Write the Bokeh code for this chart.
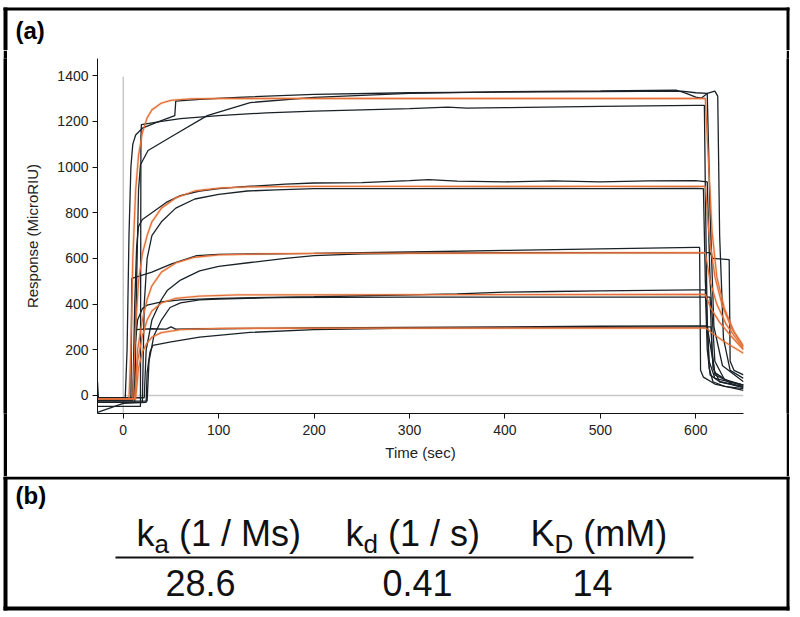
from bokeh.plotting import figure
from bokeh.models import Range1d, FixedTicker, Spacer
from bokeh.layouts import row
from bokeh.embed import file_html
from bokeh.resources import INLINE
from bokeh.core.properties import value

# ---------------- data ----------------
X_TICKS = [0, 100, 200, 300, 400, 500, 600]
Y_TICKS = [0, 200, 400, 600, 800, 1000, 1200, 1400]
X_LIMITS = (-27, 650)
Y_LIMITS = (-79, 1475)

GUIDE_ZERO_T = [0, 650]
GUIDE_ZERO_R = [0, 0]
GUIDE_START_T = [0, 0]
GUIDE_START_R = [-79, 1395]

# measured sensorgrams (time s, response MicroRIU)
BLACK_T1 = [(-27, -20), (2, -20), (4, 200), (6, 700), (8, 1000), (10, 1100), (13, 1140), (20, 1170),
            (35, 1195), (54, 1225), (55, 1288), (80, 1296), (120, 1305), (200, 1318), (300, 1325),
            (400, 1328), (500, 1330), (585, 1332), (600, 1325), (612, 1322), (615, 800), (619, 300),
            (628, 130), (650, 60)]
BLACK_T2 = [(-27, -48), (18, -48), (18.5, 1130), (19, 1186), (40, 1200), (60, 1212), (100, 1225),
            (150, 1237), (200, 1245), (300, 1256), (340, 1262), (360, 1258), (400, 1260), (500, 1265),
            (600, 1270), (609, 1270), (610, 900), (612, 300), (620, 100), (640, 45), (650, 35)]
BLACK_T3 = [(-27, 60), (-26, -12), (12, -12), (14, 500), (16, 900), (18, 1010), (26, 1072), (52, 1137),
            (88, 1225), (133, 1282), (200, 1305), (300, 1322), (400, 1330), (500, 1333), (580, 1336),
            (590, 1322), (600, 1306), (606, 1302), (612, 1322), (620, 1332), (623, 1310), (625, 700),
            (629, 250), (636, 110), (650, 75)]
BLACK_S1 = [(-27, -20), (10, -20), (12, 400), (14, 650), (16, 740), (20, 770), (30, 800), (45, 845),
            (60, 875), (80, 895), (100, 905), (130, 915), (170, 925), (200, 930), (250, 932), (300, 940),
            (320, 945), (350, 938), (400, 935), (450, 939), (500, 935), (550, 939), (600, 940),
            (612, 935), (615, 500), (620, 150), (630, 70), (650, 45)]
BLACK_S2 = [(-27, -30), (20, -30), (22, 400), (25, 600), (30, 700), (40, 760), (55, 820), (75, 860),
            (100, 880), (130, 895), (160, 900), (200, 905), (300, 905), (400, 906), (500, 905),
            (600, 906), (608, 905), (610, 500), (614, 150), (620, 75), (650, 45)]
BLACK_U1 = [(-27, -15), (8, -15), (9, 512), (15, 520), (30, 540), (50, 575), (77, 612), (100, 618),
            (150, 620), (200, 622), (300, 628), (400, 635), (500, 642), (600, 648), (604, 648),
            (605, 110), (608, 80), (620, 50), (650, 22)]
BLACK_U2 = [(-27, -10), (22, -10), (24, 200), (30, 330), (40, 420), (46, 459), (60, 505), (80, 545),
            (100, 565), (133, 582), (170, 600), (200, 612), (250, 620), (300, 622), (400, 625),
            (500, 625), (600, 625), (615, 625), (618, 600), (635, 595), (636, 150), (640, 110),
            (650, 90)]
BLACK_V1 = [(-27, -20), (10, -20), (12, 200), (15, 330), (20, 380), (25, 395), (40, 410), (60, 418),
            (100, 425), (200, 432), (300, 440), (350, 445), (400, 452), (450, 455), (500, 458),
            (550, 460), (600, 462), (610, 462), (612, 200), (615, 90), (625, 60), (650, 40)]
BLACK_V2 = [(-27, -25), (25, -25), (27, 150), (32, 260), (40, 330), (49, 385), (60, 405), (80, 418),
            (100, 422), (150, 428), (300, 430), (600, 430), (615, 430), (617, 200), (620, 90),
            (635, 60), (650, 45)]
BLACK_W1 = [(-27, -30), (12, -30), (12.5, 250), (13, 288), (30, 292), (45, 290), (50, 300), (55, 290),
            (100, 292), (150, 294), (200, 296), (300, 298), (400, 300), (500, 303), (600, 305),
            (612, 305), (614, 120), (618, 60), (630, 40), (650, 30)]
BLACK_W2 = [(-27, -74), (0, -35), (24, -30), (25, 100), (28, 190), (31, 219), (50, 235), (80, 255),
            (133, 276), (200, 288), (300, 295), (400, 297), (500, 298), (600, 300), (616, 300),
            (618, 120), (625, 60), (650, 35)]

# fitted curves
FIT_1300 = [(-27, -15), (6, -15), (8, 200), (10, 600), (13, 900), (16, 1050), (20, 1150), (25, 1215),
            (30, 1250), (40, 1280), (50, 1292), (70, 1298), (100, 1300), (610, 1300), (613, 1050),
            (617, 720), (622, 520), (630, 380), (640, 280), (650, 215)]
FIT_915 = [(-27, -15), (10, -15), (13, 300), (16, 500), (20, 620), (25, 700), (30, 760), (40, 820),
           (55, 865), (75, 895), (100, 908), (130, 913), (200, 915), (610, 915), (614, 700),
           (620, 520), (628, 390), (638, 290), (650, 215)]
FIT_625 = [(-27, -15), (12, -15), (15, 200), (20, 330), (25, 420), (30, 480), (40, 540), (55, 580),
           (75, 605), (100, 615), (150, 620), (200, 622), (610, 625), (615, 500), (622, 400),
           (632, 310), (650, 205)]
FIT_440 = [(-27, -15), (12, -15), (15, 150), (20, 260), (25, 330), (30, 370), (40, 405), (55, 425),
           (80, 435), (120, 440), (610, 442), (616, 380), (625, 320), (637, 260), (650, 200)]
FIT_296 = [(-27, -15), (13, -15), (16, 120), (20, 190), (25, 230), (30, 255), (40, 275), (60, 288),
           (100, 294), (610, 296), (618, 270), (630, 235), (650, 185)]

BLACK_CURVES = [BLACK_T1, BLACK_T2, BLACK_T3, BLACK_S1, BLACK_S2, BLACK_U1, BLACK_U2,
                BLACK_V1, BLACK_V2, BLACK_W1, BLACK_W2]
FIT_CURVES = [FIT_1300, FIT_915, FIT_625, FIT_440, FIT_296]

X_LABEL = "Time (sec)"
Y_LABEL = "Response (MicroRIU)"
PANEL_A = "(a)"
PANEL_B = "(b)"

HEADER_MAIN = ["k", "k", "K"]
HEADER_SUB = ["a", "d", "D"]
HEADER_UNIT = ["(1 / Ms)", "(1 / s)", "(mM)"]
VALUES = ["28.6", "0.41", "14"]

# ---------------- styling / layout ----------------
FONT = "Liberation Sans"
W = 800
H_TOP = 50          # page rows 0..50
H_MID = 426         # page rows 50..476
H_BOT = 141         # page rows 476..617
BX_L, BX_R = 5, 787.5   # centres of the left / right border lines
BORDER_L_W, BORDER_R_W = 4, 3


def deco_fig(h):
    f = figure(width=W, height=h, x_range=Range1d(0, W), y_range=Range1d(h, 0),
               output_backend="svg", toolbar_location=None, min_border=0,
               x_axis_location=None, y_axis_location=None)
    f.grid.visible = False
    f.outline_line_color = None
    f.border_fill_color = "white"
    f.background_fill_color = "white"
    return f


def bar_fig(w, h, color):
    f = figure(width=w, height=h, output_backend="svg", toolbar_location=None, min_border=0,
               x_axis_location=None, y_axis_location=None)
    f.grid.visible = False
    f.outline_line_color = None
    f.border_fill_color = color
    f.background_fill_color = color
    return f


# ---- top strip: upper border + "(a)"
top = deco_fig(H_TOP)
top.line([3, 789], [8.5, 8.5], line_color="black", line_width=3)
top.line([BX_L, BX_L], [7, H_TOP], line_color="black", line_width=BORDER_L_W)
top.line([BX_R, BX_R], [7, H_TOP], line_color="black", line_width=BORDER_R_W)
top.text(x=[15], y=[30], text=[PANEL_A], text_font=value(FONT), text_font_size="24px",
         text_font_style="bold", text_baseline="alphabetic", text_align="left", text_color="black")

# ---- chart
pa = figure(width=779, height=H_MID, x_range=Range1d(*X_LIMITS), y_range=Range1d(*Y_LIMITS),
            output_backend="svg", toolbar_location=None,
            min_border_left=90, min_border_right=43, min_border_top=8, min_border_bottom=63)
pa.grid.visible = False
pa.outline_line_color = None
pa.background_fill_color = "white"
pa.border_fill_color = "white"

pa.line(GUIDE_ZERO_T, GUIDE_ZERO_R, line_color="#c8c8c8", line_width=1.5)
pa.line(GUIDE_START_T, GUIDE_START_R, line_color="#c8c8c8", line_width=1.5)

for c in FIT_CURVES:
    pa.line([p[0] for p in c], [p[1] for p in c], line_color="#f7cfae", line_width=2.8, line_alpha=0.6)
for c in BLACK_CURVES:
    pa.line([p[0] for p in c], [p[1] for p in c], line_color="#1a2228", line_width=1.3)
for c in FIT_CURVES:
    pa.line([p[0] for p in c], [p[1] for p in c], line_color="#e46f3a", line_width=1.3)

for ax, ticks, lab in ((pa.xaxis, X_TICKS, X_LABEL), (pa.yaxis, Y_TICKS, Y_LABEL)):
    ax.ticker = FixedTicker(ticks=ticks)
    ax.axis_label = lab
    ax.axis_label_text_font = FONT
    ax.axis_label_text_font_size = "15px"
    ax.axis_label_text_font_style = "normal"
    ax.axis_label_text_color = "#222222"
    ax.major_label_text_font = FONT
    ax.major_label_text_font_size = "14px"
    ax.major_label_text_color = "#222222"
    ax.major_tick_out = 5
    ax.major_tick_in = 0
    ax.minor_tick_out = 0
    ax.minor_tick_in = 0
    ax.axis_line_color = "#111111"
    ax.major_tick_line_color = "#111111"
pa.xaxis.major_label_standoff = 6
pa.xaxis.axis_label_standoff = 6
pa.yaxis.major_label_standoff = 4
pa.yaxis.axis_label_standoff = 13

mid = row(Spacer(width=3, height=H_MID), bar_fig(BORDER_L_W, H_MID, "black"), pa,
          bar_fig(BORDER_R_W, H_MID, "black"), Spacer(width=11, height=H_MID), spacing=0)

# ---- panel (b)
pb = deco_fig(H_BOT)
pb.line([3, 789], [1.5, 1.5], line_color="black", line_width=3)
pb.line([3, 789], [132, 132], line_color="black", line_width=4)
pb.line([BX_L, BX_L], [0, 134], line_color="black", line_width=BORDER_L_W)
pb.line([BX_R, BX_R], [0, 134], line_color="black", line_width=BORDER_R_W)

pb.text(x=[15], y=[19], text=[PANEL_B], text_font=value(FONT), text_font_size="24px",
        text_font_style="bold", text_baseline="alphabetic", text_align="left", text_color="black")

hx = [136, 345, 530]
main_w = [18.0, 18.0, 24.0]
sub_w = [14.5, 14.5, 18.8]
gap = 10.0
pb.text(x=hx, y=[57] * 3, text=HEADER_MAIN, text_font=value(FONT), text_font_size="36px",
        text_baseline="alphabetic", text_align="left", text_color="#111111")
pb.text(x=[a + b for a, b in zip(hx, main_w)], y=[67] * 3, text=HEADER_SUB, text_font=value(FONT),
        text_font_size="26px", text_baseline="alphabetic", text_align="left", text_color="#111111")
pb.text(x=[a + b + c + gap for a, b, c in zip(hx, main_w, sub_w)], y=[57] * 3, text=HEADER_UNIT,
        text_font=value(FONT), text_font_size="36px", text_baseline="alphabetic",
        text_align="left", text_color="#111111")
pb.line([115, 693], [81, 81], line_color="#111111", line_width=2)
pb.text(x=[200, 417, 592], y=[106] * 3, text=VALUES, text_font=value(FONT), text_font_size="36px",
        text_baseline="alphabetic", text_align="center", text_color="#111111")

open("out.html", "w").write(file_html([top, mid, pb], INLINE))
